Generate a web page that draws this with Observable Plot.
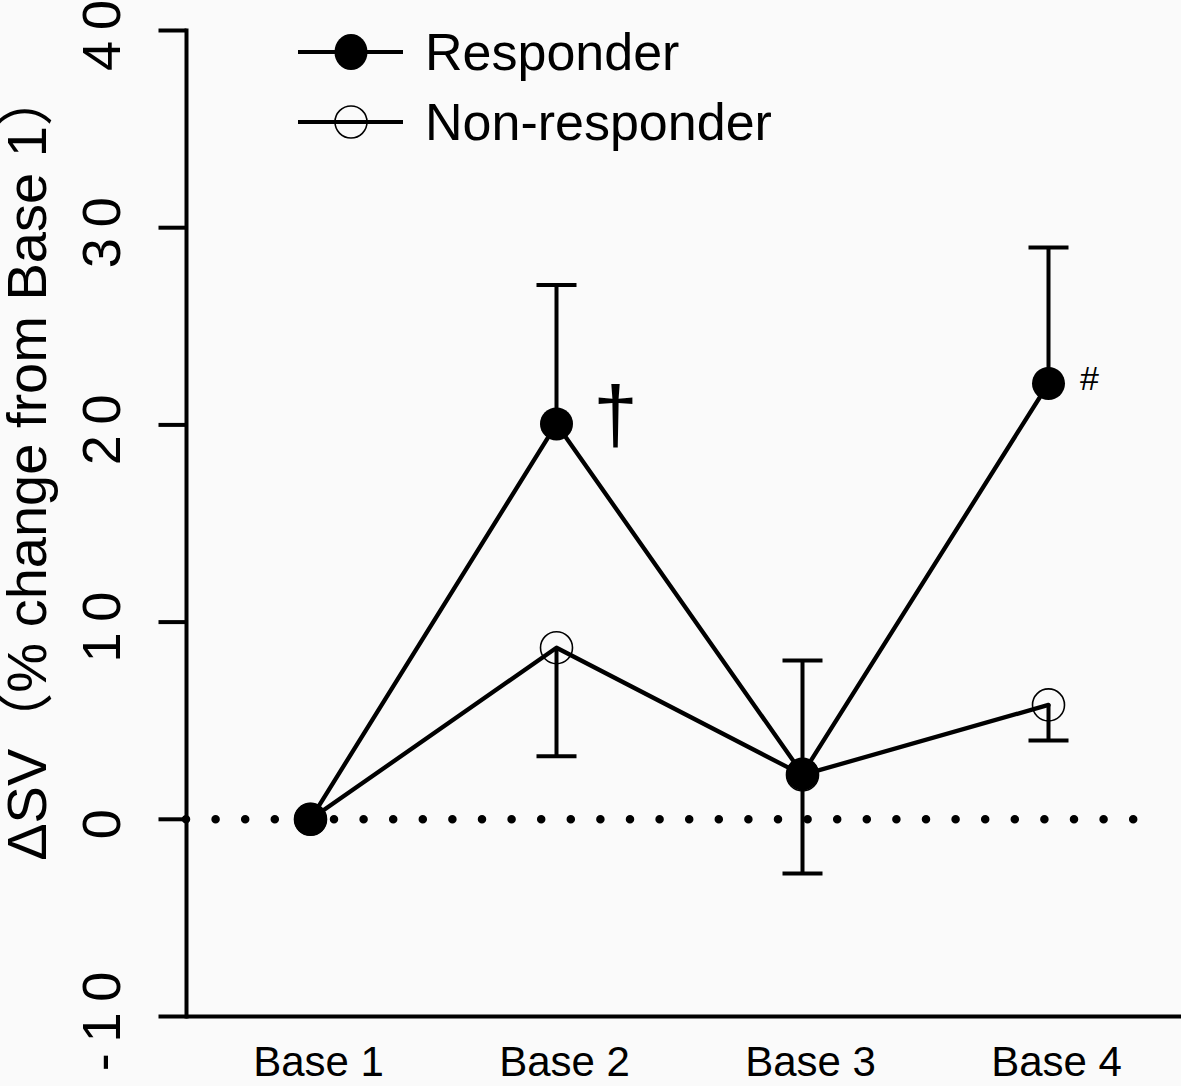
<!DOCTYPE html>
<html><head><meta charset="utf-8">
<script src="https://cdn.jsdelivr.net/npm/d3@7"></script>
<script src="https://cdn.jsdelivr.net/npm/@observablehq/plot@0.6"></script>
<style>
html,body{margin:0;padding:0;background:#fafafa;}
#wrap{position:relative;width:1181px;height:1086px;}
#wrap svg{display:block}
#legend{position:absolute;left:0;top:0;pointer-events:none}
</style></head><body><div id="wrap"></div>
<script>
// ---- data ----
const categories = ["Base 1", "Base 2", "Base 3", "Base 4"];
const responderMean = [0, 20.05, 2.3, 22.1];
const responderUpper = [null, 27.1, 8.05, 29.0];
const nonResponderMean = [0, 8.7, 2.25, 5.8];
const nonResponderLower = [null, 3.2, -2.75, 4.0];
const yTicks = [-10, 0, 10, 20, 30, 40];
const seriesNames = ["Responder", "Non-responder"];
const annotationCats = ["Base 2", "Base 4"];
const annotationValues = [20.05, 22.1];
const annotationLabels = ["\u2020", "#"];
const yTitle = "\u0394SV\uFF08% change from Base 1\uFF09";

const FONT = "'Liberation Sans', Arial, 'Noto Sans CJK JP', sans-serif";

const responder = categories.map((c, i) => ({cat: c, value: responderMean[i]}));
const nonResponder = categories.map((c, i) => ({cat: c, value: nonResponderMean[i]}));
const respBars = categories.map((c, i) => ({cat: c, value: responderMean[i], end: responderUpper[i]})).filter(d => d.end != null);
const nonBars = categories.map((c, i) => ({cat: c, value: nonResponderMean[i], end: nonResponderLower[i]})).filter(d => d.end != null);
const annotations = annotationCats.map((c, i) => ({cat: c, value: annotationValues[i], label: annotationLabels[i]}));

const hline = {draw(context, size) { const r = Math.sqrt(size / Math.PI); context.moveTo(-r, 0); context.lineTo(r, 0); }};
const spaced = d => String(d).split("").join("\u2009");

const chart = Plot.plot({
  width: 1181, height: 1086,
  marginLeft: 186, marginRight: 0, marginTop: 30, marginBottom: 70,
  style: {background: "#fafafa", fontFamily: FONT, color: "#000", overflow: "visible"},
  x: {type: "point", domain: categories, padding: 0.52, align: 0.484, axis: null},
  y: {domain: [-10, 40], axis: null},
  marks: [
    Plot.ruleY([0], {stroke: "#000", strokeWidth: 8.5, strokeLinecap: "round", strokeDasharray: "0 29.6", insetRight: 40}),
    Plot.frame({anchor: "left", stroke: "#000", strokeWidth: 4}),
    Plot.ruleY([-10], {stroke: "#000", strokeWidth: 4}),
    Plot.dot(yTicks, {y: d => d, frameAnchor: "left", symbol: hline, r: 14, dx: -14, stroke: "#000", strokeWidth: 4}),
    Plot.text(yTicks, {y: d => d, text: spaced, frameAnchor: "left", rotate: -90, textAnchor: "middle", lineAnchor: "middle", dx: -84, dy: 5, fontSize: 54, fill: "#000"}),
    Plot.axisX({tickSize: 0, tickPadding: 30, fontSize: 42, dx: 8, label: null}),
    Plot.text([yTitle], {frameAnchor: "left", rotate: -90, textAnchor: "middle", lineAnchor: "middle", dx: -158, dy: -58, fontSize: 56, fill: "#000"}),
    Plot.line(responder, {x: "cat", y: "value", stroke: "#000", strokeWidth: 4.3}),
    Plot.line(nonResponder, {x: "cat", y: "value", stroke: "#000", strokeWidth: 4.3}),
    Plot.ruleX(respBars, {x: "cat", y1: "value", y2: "end", stroke: "#000", strokeWidth: 4}),
    Plot.dot(respBars, {x: "cat", y: "end", symbol: hline, r: 20, stroke: "#000", strokeWidth: 4}),
    Plot.ruleX(nonBars, {x: "cat", y1: "value", y2: "end", stroke: "#000", strokeWidth: 4}),
    Plot.dot(nonBars, {x: "cat", y: "end", symbol: hline, r: 20, stroke: "#000", strokeWidth: 4}),
    Plot.dot(nonResponder, {x: "cat", y: "value", r: 16, fill: "none", stroke: "#000", strokeWidth: 1.6}),
    Plot.dot(responder, {x: "cat", y: "value", r: 16.5, fill: "#000", stroke: "none"}),
    Plot.text(annotations.filter(d => d.label === "\u2020"), {x: "cat", y: "value", text: "label", fontSize: 80, dx: 59, dy: -8, lineAnchor: "middle", fill: "#000"}),
    Plot.text(annotations.filter(d => d.label === "#"), {x: "cat", y: "value", text: "label", fontSize: 34, dx: 41, dy: -4, lineAnchor: "middle", fill: "#000"})
  ]
});
const wrap = document.getElementById("wrap");
wrap.appendChild(chart);

// legend overlay (inside plot area, top)
const leg = d3.select(wrap).append("svg").attr("id", "legend").attr("width", 1181).attr("height", 200)
  .style("font-family", FONT);
seriesNames.forEach((name, i) => {
  const g = leg.append("g").attr("transform", `translate(0,${52 + i * 70})`);
  g.append("line").attr("x1", 298).attr("x2", 403).attr("y1", 0).attr("y2", 0).attr("stroke", "#000").attr("stroke-width", 4);
  if (i === 0) g.append("ellipse").attr("cx", 351).attr("cy", 0).attr("rx", 16.5).attr("ry", 18).attr("fill", "#000");
  else g.append("circle").attr("cx", 351).attr("cy", 0).attr("r", 16).attr("fill", "none").attr("stroke", "#000").attr("stroke-width", 1.6);
  g.append("text").attr("x", 425).attr("y", 0).attr("dy", "0.35em").attr("font-size", 52).attr("fill", "#000").text(name);
});
</script></body></html>
